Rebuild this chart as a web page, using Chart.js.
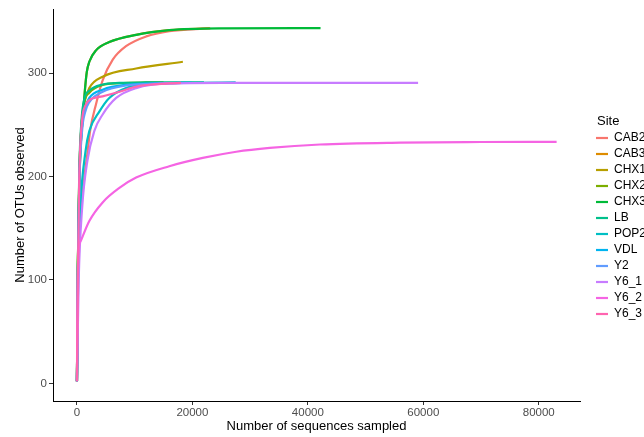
<!DOCTYPE html>
<html>
<head>
<meta charset="utf-8">
<script src="https://cdn.jsdelivr.net/npm/chart.js@4/dist/chart.umd.min.js"></script>
<style>
  html, body { margin:0; padding:0; background:#fff; }
  #wrap { position:relative; width:644px; height:437px; }
</style>
</head>
<body>
<div id="wrap"><canvas id="chart" width="644" height="437"></canvas></div>
<script>
'use strict';
// rarefaction curves, [sequences sampled, OTUs observed]
const CAB2 = [[0,2],[150,80],[500,150],[1200,195],[1800,222],[2300,245],[3300,270],[4450,293],[6200,313],[8500,326],[12000,335.5],[16000,340.5],[21800,343],[23100,343.3]];
const CAB3 = [[0,2],[150,110],[400,190],[600,225],[1000,257],[1400,285],[1700,301],[2140,311],[3300,322],[5600,330],[10250,337],[16000,341.5],[23000,343.4]];
const CHX1 = [[0,2],[150,110],[400,200],[800,250],[1270,271],[2140,285.5],[4450,296.5],[10250,304.5],[18350,311]];
const CHX2 = [[0,2],[150,110],[400,200],[800,250],[1270,272],[2140,281],[4450,288.5],[7350,290.3],[12000,291],[15000,291.1]];
const CHX3 = [[0,2],[150,110],[400,190],[600,225],[1000,257],[1400,285],[1700,301],[2140,311],[3300,322],[5600,330],[10250,337],[16000,341.5],[24700,343.2],[42200,343.5]];
const LB   = [[0,2],[150,110],[400,205],[800,255],[1270,275],[2140,283],[4450,289],[7350,290.5],[12000,291],[22000,291.2]];
const POP2 = [[0,2],[200,100],[600,170],[1500,225],[2140,244],[3900,263],[5600,276],[8500,285.5],[13100,289.7],[20000,290.6],[27500,291]];
const VDL  = [[0,2],[150,100],[400,195],[900,250],[1400,266],[2140,276],[4450,284],[8500,288.7],[16000,290.3],[19900,290.6]];
const Y2   = [[0,2],[150,100],[400,190],[900,245],[1400,262],[2140,272],[4450,282],[8500,288],[14000,290],[18000,290.5]];
const Y6_1 = [[0,2],[300,100],[900,170],[1800,215],[3000,244],[4450,260],[6800,276],[10250,285.5],[16000,290],[25000,290.6],[59100,290.6]];
const Y6_2 = [[0,2],[60,60],[150,105],[280,128],[690,138],[2140,157],[4450,175],[7350,189],[10250,199],[16000,210],[21800,218],[27600,224],[33400,227.7],[42100,231],[56000,232.8],[70000,233.4],[83100,233.6]];
const Y6_3 = [[0,2],[150,100],[400,200],[900,255],[1400,268],[2140,274],[4450,277.5],[7350,282],[10250,287],[16000,290],[18000,290.5]];

const SITES  = ['CAB2','CAB3','CHX1','CHX2','CHX3','LB','POP2','VDL','Y2','Y6_1','Y6_2','Y6_3'];
const SERIES = [CAB2, CAB3, CHX1, CHX2, CHX3, LB, POP2, VDL, Y2, Y6_1, Y6_2, Y6_3];
const COLORS = ['#F8766D','#DE8C00','#B79F00','#7CAE00','#00BA38','#00C08B','#00BFC4','#00B4F0','#619CFF','#C77CFF','#F564E3','#FF64B0'];

const X_TICKS = [0, 20000, 40000, 60000, 80000];
const Y_TICKS = [0, 100, 200, 300];

const FONT = "'Liberation Sans', Arial, sans-serif";

const datasets = SITES.map((s, i) => ({
  label: s,
  data: SERIES[i].map(([x, y]) => ({x, y})),
  borderColor: COLORS[i],
  backgroundColor: COLORS[i],
  borderWidth: 2.2,
  pointRadius: 0,
  showLine: true,
  cubicInterpolationMode: 'monotone',
  order: SITES.length - i   // later sites drawn on top, like ggplot
}));

// fixed legend box, nudged right of the plot like the ggplot guide
const legendPlace = {
  id: 'legendPlace',
  afterInit(chart) {
    const lg = chart.legend;
    const fit = lg.fit.bind(lg);
    lg.fit = function() { fit(); this.width = 64; };
    const key = typeof lg.drawTitle === 'function' ? 'drawTitle'
              : typeof lg._drawTitle === 'function' ? '_drawTitle' : null;
    if (key) {
      const drawTitle = lg[key].bind(lg);
      lg[key] = function() { this.left += 5; try { drawTitle(); } finally { this.left -= 5; } };
    }
  },
  afterLayout(chart) {
    const lg = chart.legend;
    lg.left += 12; lg.right += 12;
    lg.top -= 2; lg.bottom -= 2;
  }
};

new Chart(document.getElementById('chart'), {
  type: 'scatter',
  data: { datasets },
  plugins: [legendPlace],
  options: {
    responsive: false,
    animation: false,
    layout: { padding: { left: 13, right: 0, top: 9, bottom: 3 } },
    plugins: {
      tooltip: { enabled: false },
      legend: {
        position: 'right',
        align: 'center',
        title: { display: true, text: 'Site', position: 'start', color: '#000',
                 font: { family: FONT, size: 13, lineHeight: 1 }, padding: { top: 0, bottom: 0 } },
        labels: {
          sort: (a, b) => a.datasetIndex - b.datasetIndex,
          usePointStyle: true,
          pointStyle: 'line',
          pointStyleWidth: 12,
          boxWidth: 12,
          boxHeight: 12,
          padding: 4,
          color: '#000',
          font: { family: FONT, size: 12 }
        }
      }
    },
    scales: {
      x: {
        type: 'linear',
        min: -4150, max: 87150,
        afterBuildTicks: s => { s.ticks = X_TICKS.map(v => ({ value: v })); },
        afterFit: s => { s.height = 33; },
        grid: { display: true, drawOnChartArea: false, drawTicks: true, tickLength: 4, color: '#333' },
        border: { display: true, color: '#000', width: 1 },
        ticks: { color: '#4D4D4D', font: { family: FONT, size: 11.5 }, padding: 1, maxRotation: 0,
                  callback: v => String(v) },
        title: { display: true, text: 'Number of sequences sampled', color: '#000',
                 font: { family: FONT, size: 13 }, padding: { top: 0, bottom: 0 } }
      },
      y: {
        type: 'linear',
        min: -17, max: 362,
        afterBuildTicks: s => { s.ticks = Y_TICKS.map(v => ({ value: v })); },
        afterFit: s => { s.width = 40; },
        grid: { display: true, drawOnChartArea: false, drawTicks: true, tickLength: 4, color: '#333' },
        border: { display: true, color: '#000', width: 1 },
        ticks: { color: '#4D4D4D', font: { family: FONT, size: 11.5 }, padding: 2,
                 callback: v => String(v) },
        title: { display: true, text: 'Number of OTUs observed', color: '#000',
                 font: { family: FONT, size: 13 }, padding: { top: 0, bottom: 4 } }
      }
    }
  }
});
</script>
</body>
</html>
